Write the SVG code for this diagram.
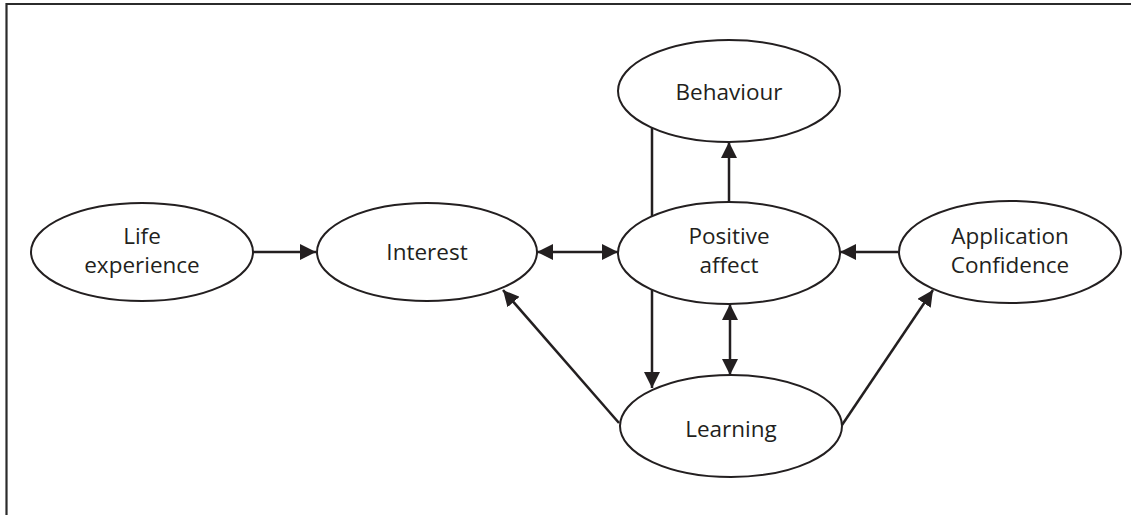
<svg xmlns="http://www.w3.org/2000/svg" width="1131" height="515" viewBox="0 0 1131 515">
<style>
.frame{fill:none;stroke:#2b2b2b;stroke-width:2.2}
.node ellipse{fill:#fff;stroke:#231f20;stroke-width:2}
.node text{font-family:"Open Sans","Liberation Sans",sans-serif;font-size:22.5px;fill:#231f20;text-anchor:middle}
.edge{fill:none;stroke:#231f20;stroke-width:2.5}
</style>
<defs>
<marker id="ah" markerUnits="userSpaceOnUse" markerWidth="16" markerHeight="16" refX="15" refY="7.5" orient="auto-start-reverse" viewBox="0 0 15 15">
<path d="M0,0 L15,7.5 L0,15 z" fill="#231f20"/>
</marker>
</defs>
<rect width="1131" height="515" fill="#fff"/>
<path class="frame" d="M6.5,520 V4 H1140"/>
<g id="connectors">
<line class="edge" x1="253" y1="252" x2="316" y2="252" marker-end="url(#ah)"/>
<line class="edge" x1="537" y1="252" x2="618" y2="252" marker-start="url(#ah)" marker-end="url(#ah)"/>
<line class="edge" x1="898" y1="252" x2="840" y2="252" marker-end="url(#ah)"/>
<line class="edge" x1="729" y1="201" x2="729" y2="142" marker-end="url(#ah)"/>
<line class="edge" x1="652" y1="127" x2="652" y2="388" marker-end="url(#ah)"/>
<line class="edge" x1="730" y1="304" x2="730" y2="375" marker-start="url(#ah)" marker-end="url(#ah)"/>
<line class="edge" x1="619" y1="423" x2="503" y2="290" marker-end="url(#ah)"/>
<line class="edge" x1="842" y1="425" x2="933" y2="290" marker-end="url(#ah)"/>
</g>
<g id="life" class="node">
<ellipse cx="142" cy="252" rx="111" ry="49"/>
<text x="142" y="244">Life</text>
<text x="142" y="273">experience</text>
</g>
<g id="interest" class="node">
<ellipse cx="427" cy="252" rx="110" ry="49"/>
<text x="427" y="260">Interest</text>
</g>
<g id="positive" class="node">
<ellipse cx="729" cy="253" rx="111" ry="51"/>
<text x="729" y="244">Positive</text>
<text x="729" y="273">affect</text>
</g>
<g id="behaviour" class="node">
<ellipse cx="729" cy="91" rx="111" ry="51"/>
<text x="729" y="100">Behaviour</text>
</g>
<g id="application" class="node">
<ellipse cx="1010" cy="252" rx="111" ry="51"/>
<text x="1010" y="244">Application</text>
<text x="1010" y="273">Confidence</text>
</g>
<g id="learning" class="node">
<ellipse cx="731" cy="426" rx="111" ry="51"/>
<text x="731" y="437">Learning</text>
</g>
</svg>
